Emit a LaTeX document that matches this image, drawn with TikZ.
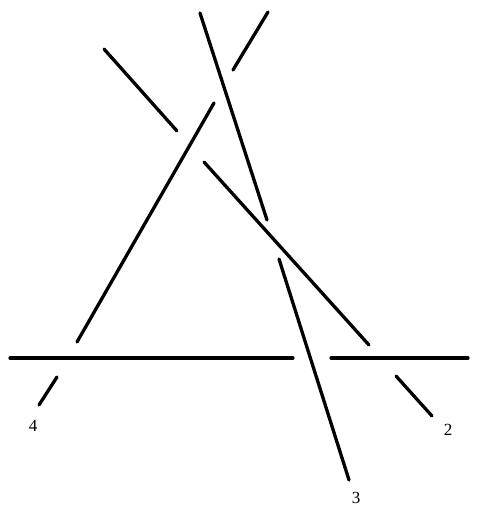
\documentclass[tikz,border=0pt]{standalone}
\usepackage{fontspec}
\setmainfont{Liberation Serif}
\begin{document}
\begin{tikzpicture}[x=1pt,y=-1pt,
  strand/.style={line width=3.3pt,line cap=round,black},
  lbl/.style={font=\fontsize{17}{19}\selectfont,inner sep=0pt}]
\useasboundingbox (0,0) rectangle (478,506);
% horizontal strand
\draw[strand] (10,358) -- (293,358);
\draw[strand] (331,358) -- (468,358);
% strand 4 (left side)
\draw[strand] (39,405) -- (57,377);
\draw[strand] (77,342) -- (214,103);
\draw[strand] (233,70) -- (268,12);
% strand 3 (steep)
\draw[strand] (200,13) -- (267,220);
\draw[strand] (279,259) -- (349,480);
% strand 2 (diagonal)
\draw[strand] (104,49) -- (177,131);
\draw[strand] (204,162) -- (369,345);
\draw[strand] (396,376) -- (432,416);
% labels
\node[lbl] (l4) at (33,426) {4};
\node[lbl] (l2) at (448,430) {2};
\node[lbl] (l3) at (356,498) {3};
\end{tikzpicture}
\end{document}
